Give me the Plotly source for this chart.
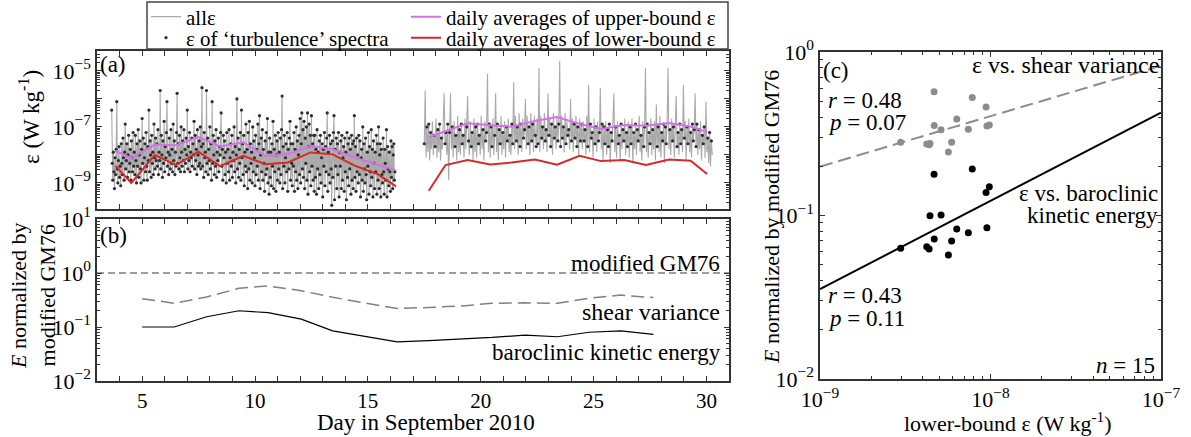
import numpy as np
import plotly.graph_objects as go

W, H = 1191, 437
FONT = "'Liberation Serif', 'Times New Roman', Times, serif"

# ---------------- panel (a): dissipation rate time series (log10 of eps, W/kg) ----------------
seg1_start, seg1_step = 3.65, 0.025    # first deployment: first sample day, days between samples
seg2_start, seg2_step = 17.50, 0.04    # second deployment

seg1_log_eps = [
    -6.4, -8.3, -8.9, -7.9, -8.6, -9.2, -8.1, -8.7, -7.8, -6.1, -8.5, -9.0, -8.2, -7.7, -8.8, -8.4, -9.1, -7.6, -8.3, -8.7,
    -7.4, -8.1, -8.9, -7.9, -6.9, -8.5, -8.2, -7.6, -8.8, -8.0, -7.3, -8.6, -8.3, -7.8, -8.9, -7.5, -8.1, -8.6, -7.2, -8.4,
    -7.9, -8.7, -7.3, -8.2, -9.0, -7.6, -8.4, -7.1, -8.8, -8.0, -7.5, -8.5, -9.0, -7.8, -6.7, -8.3, -7.4, -8.9, -8.1, -7.6,
    -8.6, -7.2, -8.4, -8.9, -7.7, -8.2, -6.4, -8.6, -7.5, -8.0, -8.8, -7.3, -8.3, -7.9, -8.7, -6.9, -8.1, -8.5, -7.4, -8.2,
    -7.6, -8.4, -7.1, -8.7, -7.9, -8.2, -5.7, -8.5, -7.3, -8.0, -8.8, -7.5, -8.3, -6.8, -8.6, -7.7, -8.1, -7.2, -6.1, -8.4,
    -7.9, -8.7, -7.4, -8.0, -8.5, -7.1, -8.3, -7.8, -8.6, -6.9, -8.2, -7.5, -8.7, -7.9, -8.4, -7.2, -5.8, -8.3, -7.6, -8.5,
    -7.3, -8.1, -8.6, -7.0, -7.9, -8.4, -7.5, -8.2, -7.1, -8.6, -7.8, -8.3, -7.4, -8.0, -6.4, -8.5, -7.7, -8.2, -7.2, -8.6,
    -7.9, -8.1, -7.4, -8.4, -7.6, -8.0, -6.8, -8.5, -7.3, -8.2, -7.8, -8.7, -7.1, -8.0, -8.4, -7.5, -8.3, -7.0, -8.5, -7.7,
    -5.6, -8.4, -7.6, -8.8, -7.2, -8.1, -7.9, -8.6, -5.7, -8.3, -7.4, -8.7, -7.8, -8.2, -7.0, -8.5, -7.6, -8.9, -6.1, -8.3,
    -7.3, -8.0, -8.7, -7.5, -8.4, -7.1, -8.8, -7.9, -8.2, -7.4, -8.6, -7.7, -8.0, -7.2, -6.5, -8.4, -7.8, -8.9, -7.3, -8.1,
    -7.5, -8.7, -7.9, -9.0, -7.2, -8.3, -7.8, -8.6, -7.1, -8.9, -8.1, -7.6, -8.4, -7.3, -8.8, -7.9, -8.2, -7.0, -8.6, -7.7,
    -9.0, -8.0, -6.0, -8.5, -7.4, -8.8, -7.8, -8.3, -7.2, -8.9, -6.4, -8.1, -7.6, -8.7, -7.3, -9.1, -7.9, -8.4, -6.9, -8.6,
    -7.8, -9.2, -7.2, -8.5, -6.8, -8.9, -7.6, -8.3, -7.9, -9.0, -7.0, -8.6, -7.5, -8.1, -9.1, -7.3, -8.7, -7.8, -8.4, -6.9,
    -8.9, -7.6, -6.6, -9.2, -8.0, -7.4, -8.6, -7.1, -8.9, -7.8, -8.3, -9.3, -7.5, -8.7, -7.2, -8.5, -6.7, -9.0, -7.9, -9.4,
    -7.4, -8.8, -7.9, -9.1, -7.6, -8.4, -6.8, -9.2, -7.8, -8.6, -7.3, -9.3, -8.0, -7.5, -8.9, -7.2, -8.5, -7.9, -9.0, -7.4,
    -8.7, -7.1, -5.9, -9.2, -7.7, -8.4, -7.3, -9.0, -8.1, -7.6, -8.6, -7.2, -9.3, -7.8, -8.5, -7.4, -6.8, -8.9, -7.6, -8.3,
    -9.1, -7.6, -8.4, -7.2, -9.3, -7.8, -8.6, -7.0, -8.9, -7.5, -9.2, -8.0, -7.3, -8.7, -6.7, -9.0, -7.6, -6.5, -8.5, -7.1,
    -8.8, -6.8, -9.2, -7.4, -8.3, -7.0, -8.9, -6.5, -9.4, -7.7, -6.9, -8.6, -7.3, -9.1, -6.6, -8.4, -7.6, -8.9, -7.3, -9.3,
    -7.3, -8.8, -7.8, -9.4, -7.1, -8.5, -7.9, -9.2, -7.5, -8.7, -7.3, -9.0, -8.1, -7.6, -9.5, -7.8, -8.4, -7.2, -9.1, -7.7,
    -8.6, -7.4, -6.5, -9.3, -7.9, -8.7, -7.3, -9.0, -7.6, -8.5, -9.8, -7.5, -8.8, -7.2, -6.6, -9.6, -7.8, -8.4, -7.4, -9.2,
    -7.6, -8.7, -7.2, -9.5, -7.9, -8.4, -7.5, -9.2, -7.3, -8.9, -8.1, -7.7, -9.3, -7.4, -8.6, -7.9, -9.6, -7.2, -8.8, -7.6,
    -9.1, -7.4, -8.5, -7.8, -9.4, -7.3, -8.9, -7.6, -9.2, -7.5, -6.6, -8.8, -7.7, -9.3, -7.4, -8.6, -8.0, -9.0, -7.3, -8.7,
    -7.5, -9.5, -8.1, -7.8, -8.9, -7.0, -9.3, -7.6, -8.5, -9.0, -7.4, -8.7, -9.6, -7.9, -8.4, -7.2, -9.4, -7.7, -8.6, -9.1,
    -7.1, -8.8, -7.8, -9.5, -7.5, -8.3, -9.2, -7.9, -8.6, -7.3, -9.4, -7.6, -8.9, -7.0, -9.2, -8.0, -7.6, -9.5, -7.8, -8.7,
    -9.0, -7.4, -8.6, -9.4, -7.8, -8.3, -8.9, -7.1, -9.5, -7.7, -8.5, -9.1, -7.9, -8.6, -9.3, -7.5, -8.8, -7.7, -9.2, -8.0,
    -7.6, -8.9, -8.6,
]

seg2_log_eps = [
    -7.6, -5.7, -8.1, -7.0, -7.9, -6.9, -8.2, -7.2, -7.8, -6.8, -8.0, -7.3, -7.7, -6.7, -8.1, -7.1, -7.9, -6.9, -8.2, -7.4, -7.8, -6.8, -5.8, -7.6, -7.2,
    -8.0, -6.9, -8.9, -7.2, -5.8, -7.8, -7.0, -8.1, -6.8, -7.7, -7.3, -8.2, -6.6, -7.9, -7.1, -8.0, -6.9, -7.6, -7.3, -8.1, -6.7, -7.8, -7.0, -5.9, -7.5,
    -8.0, -6.8, -7.7, -7.2, -8.2, -6.7, -7.9, -7.0, -8.1, -6.9, -7.6, -7.3, -8.0, -6.6, -7.8, -7.1, -8.2, -6.8, -7.5, -7.2, -5.1, -7.9, -6.9, -8.1, -7.0,
    -7.7, -6.7, -8.0, -7.3, -5.8, -7.9, -6.9, -8.2, -7.1, -7.6, -6.6, -8.0, -7.2, -7.8, -6.8, -8.1, -7.0, -7.5, -6.7, -7.9, -7.3, -8.0, -6.9, -7.6, -5.4,
    -7.8, -6.6, -7.5, -7.0, -8.0, -6.5, -7.7, -6.9, -7.9, -6.7, -7.4, -7.1, -6.0, -7.8, -6.6, -7.6, -7.0, -8.0, -6.5, -7.5, -6.9, -7.9, -6.6, -7.3, -7.7,
    -6.7, -7.6, -4.9, -7.9, -6.6, -7.4, -7.0, -7.8, -6.5, -7.5, -7.1, -7.9, -5.8, -7.3, -6.7, -7.7, -6.9, -8.0, -6.5, -7.4, -7.0, -7.8, -6.6, -7.5, -6.9,
    -4.65, -7.7, -6.6, -7.4, -7.0, -7.9, -6.5, -7.6, -6.8, -7.3, -7.1, -7.8, -6.0, -7.5, -6.7, -7.9, -6.9, -7.4, -6.6, -7.7, -7.0, -8.0, -6.7, -7.5, -6.9,
    -7.8, -6.8, -7.5, -7.1, -8.0, -6.6, -7.7, -5.5, -7.9, -6.9, -7.4, -7.2, -8.1, -6.7, -7.6, -7.0, -7.9, -6.8, -7.5, -7.2, -5.6, -7.8, -6.9, -8.2, -7.0,
    -7.6, -6.8, -8.0, -7.1, -7.7, -6.9, -8.3, -7.2, -7.5, -6.7, -5.8, -7.9, -7.0, -8.1, -6.8, -7.6, -7.3, -8.2, -6.9, -7.8, -7.1, -7.5, -6.7, -8.0, -7.2,
    -7.7, -6.8, -8.1, -7.0, -7.6, -6.7, -8.3, -7.2, -7.8, -6.9, -8.0, -7.1, -7.5, -6.6, -7.9, -7.3, -8.2, -6.8, -7.7, -7.0, -4.9, -7.9, -6.9, -8.1, -7.2,
    -7.6, -6.7, -8.0, -7.1, -7.8, -6.8, -8.2, -6.2, -7.7, -7.0, -7.9, -6.6, -8.1, -7.2, -7.5, -6.9, -8.3, -7.0, -7.6, -6.8, -4.9, -7.8, -7.1, -8.0, -6.7,
    -7.5, -7.0, -8.1, -6.8, -5.9, -7.7, -7.2, -8.0, -6.9, -7.6, -7.1, -7.9, -5.5, -7.4, -6.8, -8.2, -7.0, -7.6, -6.7, -7.9, -7.2, -8.1, -6.9, -7.5, -7.1,
    -5.8, -7.7, -6.9, -8.0, -7.1, -7.8, -6.8, -8.2, -7.3, -7.6, -7.0, -8.1, -6.1, -7.9, -7.4, -8.3, -7.2, -8.4, -7.5, -8.0,
]
# second deployment: 'turbulence' spectra are those with mid-band values
turb2_low, turb2_high = -7.8, -6.8

# daily averages (log10 eps)
avg1_days = [3.82, 4.52, 5.56, 6.50, 7.49, 8.45, 9.48, 10.46, 11.46, 12.46, 13.44, 14.44, 15.42, 16.25]
upper1_log = [-7.85, -8.12, -7.63, -7.65, -7.36, -7.70, -7.55, -8.04, -7.97, -7.68, -7.80, -8.10, -8.34, -8.55]
lower1_log = [-8.39, -9.00, -8.00, -8.36, -7.88, -8.40, -8.03, -8.33, -8.27, -7.91, -7.98, -8.39, -8.68, -9.12]
avg2_days = [17.70, 18.44, 19.42, 20.42, 21.37, 22.40, 23.38, 24.38, 25.33, 26.36, 27.32, 28.35, 29.30, 30.03]
upper2_log = [-7.37, -7.15, -6.87, -6.94, -6.99, -6.79, -6.65, -6.89, -7.07, -6.93, -6.96, -6.86, -6.99, -7.18]
lower2_log = [-9.28, -8.36, -8.18, -8.34, -8.27, -8.16, -8.35, -8.03, -8.22, -8.18, -8.36, -8.16, -8.21, -8.68]

# ---------------- panel (b): normalized energy ----------------
days_b = [5.0, 6.42, 7.86, 9.29, 10.58, 12.05, 13.44, 14.9, 16.3, 17.7, 19.14, 20.5, 21.96, 23.4, 24.8, 26.2, 27.65]
shear_norm = [0.335, 0.275, 0.360, 0.520, 0.575, 0.470, 0.355, 0.280, 0.220, 0.230, 0.245, 0.275, 0.280, 0.275, 0.340, 0.390, 0.350]
bke_norm = [0.100, 0.100, 0.155, 0.200, 0.184, 0.140, 0.085, 0.066, 0.053, 0.056, 0.059, 0.064, 0.071, 0.066, 0.080, 0.085, 0.073]
gm76_level = 1.0

# ---------------- panel (c): scatter vs lower-bound eps ----------------
lower_eps_log = [-8.331, -8.107, -8.007, -8.026, -8.355, -8.290, -8.198, -8.130, -8.021, -8.330, -8.228, -8.527, -8.374, -8.360, -8.247]
shear_c_log = [-0.243, -0.279, -0.446, -0.336, -0.560, -0.475, -0.410, -0.473, -0.453, -0.450, -0.552, -0.552, -0.563, -0.567, -0.612]
bke_c_log = [-0.748, -0.716, -0.824, -0.860, -1.001, -0.997, -1.083, -1.105, -1.075, -1.144, -1.156, -1.200, -1.191, -1.205, -1.242]
# regression lines in log-log space: log10(E) = a + b*(log10(eps) + 9)
shear_fit = (-0.701, 0.3085)
bke_fit = (-1.45, 0.5395)

# ---------------- axis ranges / ticks ----------------
day_range = [3, 31]
day_ticks = list(range(4, 31))
day_labels = [str(d) if d % 5 == 0 else "" for d in day_ticks]


def sup(e):
    return "10<sup>" + ("\u2212" + str(-e) if e < 0 else str(e)) + "</sup>"


def minors(e0, e1):
    return [m * 10.0 ** e for e in range(e0, e1) for m in range(2, 10)]


def fx(p):
    return p / W


def fy(p):
    return 1 - p / H


# ---------------- build series ----------------
t1 = seg1_start + seg1_step * np.arange(len(seg1_log_eps))
t2 = seg2_start + seg2_step * np.arange(len(seg2_log_eps))
s1 = np.array(seg1_log_eps)
s2 = np.array(seg2_log_eps)
x_all = np.concatenate([t1, [np.nan], t2])
y_all = 10 ** np.concatenate([s1, [np.nan], s2])
mask2 = (s2 > turb2_low) & (s2 < turb2_high)
x_turb = np.concatenate([t1, t2[mask2]])
y_turb = 10 ** np.concatenate([s1, s2[mask2]])

x_avg = list(avg1_days) + [None] + list(avg2_days)
y_up = [10 ** v for v in upper1_log] + [None] + [10 ** v for v in upper2_log]
y_lo = [10 ** v for v in lower1_log] + [None] + [10 ** v for v in lower2_log]

fig = go.Figure()

fig.add_trace(go.Scatter(x=x_all, y=y_all, mode="lines", name="allε",
                         line=dict(color="rgb(170,170,170)", width=1.1), xaxis="x", yaxis="y",
                         legend="legend"))
fig.add_trace(go.Scatter(x=x_turb, y=y_turb, mode="markers", name="ε of ‘turbulence’ spectra",
                         marker=dict(color="rgb(45,45,45)", size=3.2), xaxis="x", yaxis="y",
                         legend="legend2"))
fig.add_trace(go.Scatter(x=x_avg, y=y_up, mode="lines", name="daily averages of upper-bound ε",
                         line=dict(color="rgb(214,112,234)", width=2), xaxis="x", yaxis="y",
                         legend="legend3"))
fig.add_trace(go.Scatter(x=x_avg, y=y_lo, mode="lines", name="daily averages of lower-bound ε",
                         line=dict(color="rgb(216,40,40)", width=2), xaxis="x", yaxis="y",
                         legend="legend4"))

# panel (b)
fig.add_trace(go.Scatter(x=day_range, y=[gm76_level, gm76_level], mode="lines", showlegend=False,
                         line=dict(color="rgb(60,60,60)", width=1, dash="7px,4px"), xaxis="x2", yaxis="y2"))
fig.add_trace(go.Scatter(x=days_b, y=shear_norm, mode="lines", showlegend=False,
                         line=dict(color="rgb(128,128,128)", width=1.5, dash="13px,6px"), xaxis="x2", yaxis="y2"))
fig.add_trace(go.Scatter(x=days_b, y=bke_norm, mode="lines", showlegend=False,
                         line=dict(color="black", width=1.2), xaxis="x2", yaxis="y2"))

# panel (c)
xc = [10 ** v for v in lower_eps_log]
fig.add_trace(go.Scatter(x=xc, y=[10 ** v for v in shear_c_log], mode="markers", showlegend=False,
                         marker=dict(color="rgb(140,140,140)", size=7), xaxis="x3", yaxis="y3"))
fig.add_trace(go.Scatter(x=xc, y=[10 ** v for v in bke_c_log], mode="markers", showlegend=False,
                         marker=dict(color="black", size=7), xaxis="x3", yaxis="y3"))
fit_lx = np.array([-9.0, -7.0])
fig.add_trace(go.Scatter(x=10 ** fit_lx, y=10 ** (shear_fit[0] + shear_fit[1] * (fit_lx + 9)), mode="lines",
                         showlegend=False, line=dict(color="rgb(140,140,140)", width=2, dash="13px,6px"),
                         xaxis="x3", yaxis="y3"))
fig.add_trace(go.Scatter(x=10 ** fit_lx, y=10 ** (bke_fit[0] + bke_fit[1] * (fit_lx + 9)), mode="lines",
                         showlegend=False, line=dict(color="black", width=2), xaxis="x3", yaxis="y3"))

axis_common = dict(showline=True, linecolor="#333", linewidth=1.5, mirror="ticks", ticks="inside",
                   ticklen=5, tickwidth=1, tickcolor="#333", showgrid=False, zeroline=False)
minor_common = dict(ticks="inside", ticklen=3, tickwidth=1, tickcolor="#333", showgrid=False)
y_tickfont = dict(family=FONT, size=22, color="black")
x_tickfont = dict(family=FONT, size=21, color="black")

fig.update_layout(
    width=W, height=H, autosize=False, margin=dict(l=0, r=0, t=0, b=0, autoexpand=False),
    paper_bgcolor="white", plot_bgcolor="white",
    font=dict(family=FONT, size=20, color="black"),
    xaxis=dict(domain=[fx(97), fx(729)], range=day_range, anchor="y", tickmode="array",
               tickvals=day_ticks, ticktext=[""] * len(day_ticks), tickfont=x_tickfont, **axis_common),
    yaxis=dict(domain=[fy(209), fy(51)], type="log", range=[-9.93, -4.29], anchor="x", tickmode="array",
               tickvals=[10.0 ** e for e in range(-9, -4)],
               ticktext=[sup(e) if e % 2 else "" for e in range(-9, -4)], tickfont=y_tickfont,
               minor=dict(tickmode="array", tickvals=minors(-10, -4), **minor_common), **axis_common),
    xaxis2=dict(domain=[fx(97), fx(729)], range=day_range, anchor="y2", tickmode="array",
                tickvals=day_ticks, ticktext=day_labels, tickfont=x_tickfont, **axis_common),
    yaxis2=dict(domain=[fy(381), fy(219)], type="log", range=[-2, 1], anchor="x2", tickmode="array",
                tickvals=[10.0 ** e for e in range(-2, 2)], ticktext=[sup(e) for e in range(-2, 2)],
                tickfont=y_tickfont,
                minor=dict(tickmode="array", tickvals=minors(-2, 1), **minor_common), **axis_common),
    xaxis3=dict(domain=[fx(820), fx(1161)], type="log", range=[-9, -7], anchor="y3", tickmode="array",
                tickvals=[10.0 ** e for e in range(-9, -6)], ticktext=[sup(e) for e in range(-9, -6)],
                tickfont=y_tickfont,
                minor=dict(tickmode="array", tickvals=minors(-9, -7), **minor_common), **axis_common),
    yaxis3=dict(domain=[fy(379), fy(52)], type="log", range=[-2, 0], anchor="x3", tickmode="array",
                tickvals=[10.0 ** e for e in range(-2, 1)], ticktext=[sup(e) for e in range(-2, 1)],
                tickfont=y_tickfont,
                minor=dict(tickmode="array", tickvals=minors(-2, 0), **minor_common), **axis_common),
)

leg_common = dict(xanchor="left", yanchor="middle", bgcolor="rgba(0,0,0,0)", borderwidth=0,
                  font=dict(family=FONT, size=21, color="black"), tracegroupgap=0)
fig.update_layout(
    legend=dict(x=fx(146), y=fy(17), **leg_common),
    legend2=dict(x=fx(146), y=fy(38), **leg_common),
    legend3=dict(x=fx(406), y=fy(17), **leg_common),
    legend4=dict(x=fx(406), y=fy(38), **leg_common),
)
fig.add_shape(type="rect", xref="paper", yref="paper", x0=fx(147), x1=fx(728), y0=fy(49), y1=fy(2),
              line=dict(color="#444", width=1.5), fillcolor="rgba(0,0,0,0)", layer="above")


def ann(text, x, y, xanchor="center", size=23, angle=0):
    fig.add_annotation(text=text, x=fx(x), y=fy(y), xref="paper", yref="paper", showarrow=False,
                       xanchor=xanchor, yanchor="middle", textangle=angle,
                       font=dict(family=FONT, size=size, color="black"))


ann("(a)", 98, 65, "left", 23)
ann("(b)", 98, 235, "left", 23)
ann("(c)", 821, 70, "left", 23)
ann("ε (W kg<sup>-1</sup>)", 29, 117, size=23, angle=-90)
ann("<i>E</i> normalized by<br>modified GM76", 33, 296, size=22, angle=-90)
ann("Day in September 2010", 426, 422, size=23)
ann("<i>E</i> normalized by modified GM76", 771, 217, size=22, angle=-90)
ann("lower-bound ε (W kg<sup>-1</sup>)", 1008, 422, size=22)
ann("modified GM76", 722, 263, "right", 23)
ann("shear variance", 722, 312, "right", 24)
ann("baroclinic kinetic energy", 723, 352, "right", 23)
ann("ε vs. shear variance", 1161, 65, "right", 24)
ann("ε vs. baroclinic", 1160, 193, "right", 23)
ann("kinetic energy", 1160, 215, "right", 23)
ann("<i>r</i> = 0.48", 826, 100, "left", 23)
ann("<i>p</i> = 0.07", 826, 123, "left", 23)
ann("<i>r</i> = 0.43", 826, 295, "left", 23)
ann("<i>p</i> = 0.11", 826, 318, "left", 23)
ann("<i>n</i> = 15", 1157, 365, "right", 23)

fig.write_html("out.html")
